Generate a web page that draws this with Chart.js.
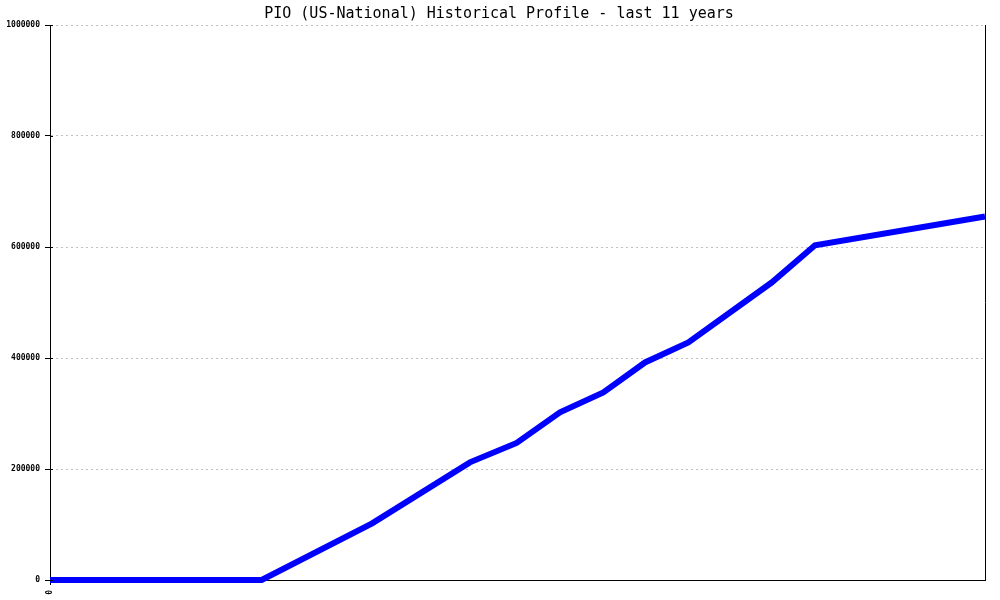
<!DOCTYPE html>
<html>
<head>
<meta charset="utf-8">
<script src="https://cdn.jsdelivr.net/npm/chart.js@4.4.1/dist/chart.umd.min.js"></script>
<style>
  html, body { margin: 0; padding: 0; background: #fff; }
  #wrap { width: 1000px; height: 600px; }
</style>
</head>
<body>
<div id="wrap"><canvas id="chart"></canvas></div>
<script>
// years since start of the 11-year window
const yearsOffset = [0, 2.49, 3.79, 4.94, 5.49, 6.0, 6.51, 7.0, 7.51, 8.49, 9.0, 11.0];
// value at each point
const profileValues = [0, 0, 102000, 212000, 247000, 302000, 338000, 392000, 428000, 536000, 603000, 655000];
const yTicks = [0, 200000, 400000, 600000, 800000, 1000000];
const xTickLabels = ['0'];

const monoFont = "'DejaVu Sans Mono', 'Liberation Mono', monospace";

// short tick stubs inside the plot + right border line, title centred on the page
const frameExtras = {
    id: 'frameExtras',
    afterLayout(chart) {
        if (chart.titleBlock) {
            chart.titleBlock.left = 0;
            chart.titleBlock.right = chart.width - 2;
        }
    },
    afterDraw(chart) {
        const { ctx, chartArea } = chart;
        const y = chart.scales.y;
        ctx.save();
        ctx.strokeStyle = '#000';
        ctx.lineWidth = 1;
        ctx.beginPath();
        yTicks.forEach(v => {
            const py = Math.round(y.getPixelForValue(v)) + 0.5;
            ctx.moveTo(chartArea.left, py);
            ctx.lineTo(chartArea.left + 3, py);
        });
        ctx.moveTo(Math.round(chartArea.right) + 0.5, chartArea.top);
        ctx.lineTo(Math.round(chartArea.right) + 0.5, chartArea.bottom);
        ctx.stroke();
        ctx.restore();
    }
};

new Chart(document.getElementById('chart'), {
    type: 'line',
    data: {
        datasets: [{
            data: yearsOffset.map((x, i) => ({ x: x, y: profileValues[i] })),
            borderColor: '#0000ff',
            borderWidth: 6,
            pointRadius: 0,
            tension: 0,
            fill: false,
            clip: false
        }]
    },
    options: {
        responsive: true,
        maintainAspectRatio: false,
        animation: false,
        layout: { padding: { left: 0, right: 15, top: 0, bottom: 0 } },
        plugins: {
            legend: { display: false },
            tooltip: { enabled: false },
            title: {
                display: true,
                text: 'PIO (US-National) Historical Profile - last 11 years',
                color: '#000',
                font: { family: monoFont, size: 15, weight: 'normal', lineHeight: 1.2 },
                padding: { top: 5, bottom: 2 }
            }
        },
        scales: {
            x: {
                type: 'linear',
                min: 0,
                max: 11,
                afterBuildTicks: (scale) => {
                    scale.ticks = xTickLabels.map((t, i) => ({ value: i }));
                },
                afterFit: (scale) => { scale.height = 20; },
                ticks: {
                    callback: (v, i) => xTickLabels[i],
                    color: '#000',
                    font: { family: monoFont, size: 8, weight: 'bold' },
                    minRotation: 90,
                    maxRotation: 90,
                    padding: 5
                },
                grid: {
                    drawOnChartArea: false,
                    drawTicks: true,
                    tickLength: 5,
                    tickColor: '#000'
                },
                border: { display: true, color: '#000', width: 1 }
            },
            y: {
                min: 0,
                max: 1000000,
                afterBuildTicks: (scale) => {
                    scale.ticks = yTicks.map(v => ({ value: v }));
                },
                afterFit: (scale) => { scale.width = 50; },
                ticks: {
                    color: '#000',
                    font: { family: monoFont, size: 8, weight: 'bold' },
                    padding: 5,
                    callback: (v) => String(v)
                },
                grid: {
                    color: '#c0c0c0',
                    tickColor: '#000',
                    tickLength: 5,
                    drawTicks: true
                },
                border: { display: true, color: '#000', width: 1, dash: [2, 3] }
            }
        }
    },
    plugins: [frameExtras]
});
</script>
</body>
</html>
